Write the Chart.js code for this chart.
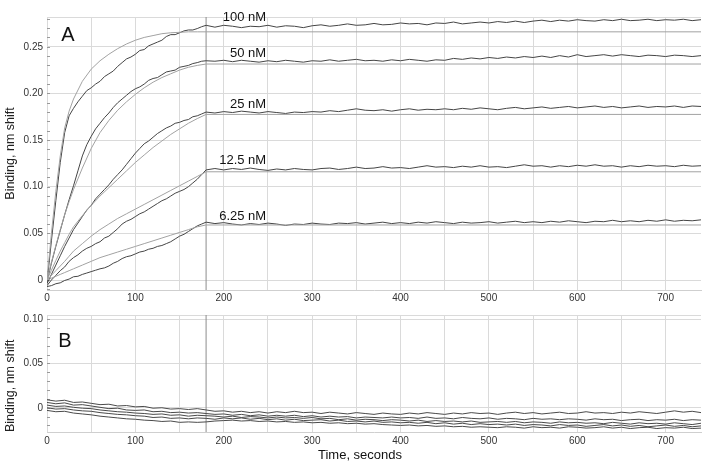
<!DOCTYPE html>
<html>
<head>
<meta charset="utf-8">
<script src="https://cdn.jsdelivr.net/npm/chart.js@4.4.1/dist/chart.umd.min.js"></script>
<style>
  body { margin: 0; background: #fff; }
  #wrap { position: relative; width: 706px; height: 475px; }
  canvas { position: absolute; left: 0; }
  #chartA { top: 0; }
  #chartB { top: 305px; }
</style>
</head>
<body>
<div id="wrap">
  <canvas id="chartA" width="706" height="305"></canvas>
  <canvas id="chartB" width="706" height="170"></canvas>
</div>
<script>
// sample times (s): 5 s steps during association, 10 s after
const times = [0,5,10,15,20,25,30,35,40,45,50,55,60,65,70,75,80,85,90,95,
  100,105,110,115,120,125,130,135,140,145,150,155,160,165,170,175,180,
  190,200,210,220,230,240,250,260,270,280,290,300,310,320,330,340,350,360,370,380,390,
  400,410,420,430,440,450,460,470,480,490,500,510,520,530,540,550,560,570,580,590,
  600,610,620,630,640,650,660,670,680,690,700,710,720,730,740];
const fitTimes = [0,5,10,15,20,25,30,40,50,60,70,80,90,100,110,120,130,140,150,160,170,180,740];
const timesB = [0,10,20,30,40,50,60,70,80,90,100,110,120,130,140,150,160,170,180,190,
  200,210,220,230,240,250,260,270,280,290,300,310,320,330,340,350,360,370,380,390,
  400,410,420,430,440,450,460,470,480,490,500,510,520,530,540,550,560,570,580,590,
  600,610,620,630,640,650,660,670,680,690,700,710,720,730,740];

const concentrations = ["100 nM", "50 nM", "25 nM", "12.5 nM", "6.25 nM"];
const labelTime = 248;
const labelValues = [0.2822, 0.2436, 0.1897, 0.1297, 0.0697];
const associationEnd = 180;

const xTicks = [0,50,100,150,200,250,300,350,400,450,500,550,600,650,700];
const yTicksA = [0, 0.05, 0.10, 0.15, 0.20, 0.25];
const yTicksB = [0, 0.05, 0.10];

// measured traces, panel A
const meas100 = [-0.003,0.042,0.085,0.126,0.158,0.176,0.184,0.191,0.197,0.203,0.206,0.21,0.213,0.218,0.221,0.224,0.229,0.233,0.237,0.239,
  0.242,0.246,0.247,0.251,0.253,0.255,0.257,0.261,0.263,0.263,0.265,0.267,0.268,0.268,0.2695,0.2715,0.273,
  0.271,0.273,0.272,0.2705,0.272,0.2715,0.273,0.271,0.2725,0.272,0.2705,
  0.2725,0.2735,0.272,0.273,0.2745,0.273,0.2735,0.275,0.2735,0.274,
  0.2755,0.2745,0.275,0.2735,0.2755,0.275,0.2765,0.2745,0.2755,0.2765,
  0.2755,0.277,0.276,0.2775,0.276,0.2775,0.2785,0.277,0.2785,0.2775,
  0.279,0.278,0.2775,0.279,0.278,0.2795,0.278,0.2785,0.2795,0.278,
  0.279,0.2785,0.2795,0.278,0.279];
const meas50 = [-0.002,0.018,0.036,0.053,0.07,0.086,0.101,0.117,0.133,0.145,0.154,0.162,0.168,0.174,0.179,0.185,0.19,0.194,0.198,0.202,
  0.205,0.207,0.21,0.214,0.216,0.217,0.22,0.223,0.224,0.225,0.228,0.229,0.23,0.232,0.233,0.2345,0.235,
  0.2345,0.2355,0.234,0.2355,0.2345,0.2335,0.235,0.234,0.2355,0.2345,0.2335,
  0.235,0.2345,0.236,0.2345,0.2355,0.2365,0.235,0.2355,0.2345,0.236,
  0.235,0.2365,0.2355,0.2345,0.236,0.2355,0.2375,0.2365,0.238,0.237,
  0.2385,0.2375,0.239,0.238,0.2395,0.2385,0.24,0.2385,0.2405,0.239,
  0.2415,0.2395,0.2405,0.2415,0.24,0.2415,0.2405,0.2395,0.241,0.2405,
  0.2395,0.241,0.2405,0.2395,0.2405];
const meas25 = [-0.004,0.006,0.016,0.026,0.036,0.045,0.054,0.061,0.068,0.075,0.08,0.087,0.092,0.097,0.102,0.108,0.113,0.118,0.124,0.13,
  0.136,0.141,0.146,0.149,0.153,0.157,0.16,0.163,0.165,0.168,0.169,0.171,0.172,0.175,0.176,0.178,0.18,
  0.179,0.1805,0.1795,0.181,0.18,0.179,0.1805,0.1795,0.1785,0.18,0.1795,
  0.1805,0.18,0.1815,0.1805,0.182,0.1835,0.182,0.1815,0.1825,0.181,
  0.1825,0.1835,0.182,0.183,0.1825,0.1835,0.1825,0.184,0.183,0.1845,
  0.1835,0.1825,0.184,0.185,0.1835,0.1845,0.1855,0.184,0.185,0.186,
  0.1845,0.1855,0.1865,0.185,0.186,0.1845,0.1855,0.1865,0.185,0.186,
  0.1855,0.1865,0.185,0.1865,0.186];
const meas12 = [-0.006,0.0,0.005,0.01,0.014,0.02,0.024,0.027,0.031,0.034,0.036,0.039,0.041,0.045,0.047,0.051,0.055,0.06,0.063,0.065,
  0.068,0.071,0.073,0.076,0.079,0.082,0.085,0.087,0.09,0.093,0.095,0.097,0.1,0.104,0.108,0.113,0.118,
  0.1195,0.118,0.1195,0.1185,0.12,0.1185,0.1175,0.119,0.118,0.1195,0.1185,
  0.118,0.1195,0.12,0.1185,0.1195,0.121,0.1195,0.12,0.1215,0.12,
  0.1205,0.1195,0.121,0.1225,0.121,0.1215,0.1205,0.122,0.121,0.1225,
  0.121,0.1215,0.1205,0.122,0.1235,0.122,0.1225,0.121,0.1225,0.1215,
  0.123,0.122,0.1235,0.122,0.1225,0.121,0.1225,0.1215,0.123,0.122,
  0.1225,0.1215,0.123,0.122,0.1225];
const meas6 = [-0.007,-0.006,-0.004,-0.003,-0.0005,0.001,0.0035,0.004,0.006,0.0075,0.009,0.0105,0.012,0.013,0.015,0.018,0.02,0.023,0.025,0.026,
  0.028,0.03,0.031,0.033,0.034,0.036,0.037,0.039,0.041,0.044,0.047,0.049,0.052,0.055,0.058,0.06,0.062,
  0.0605,0.0615,0.06,0.059,0.0605,0.0595,0.061,0.06,0.0585,0.06,0.0595,
  0.061,0.06,0.0595,0.061,0.0605,0.0615,0.06,0.061,0.062,0.0605,
  0.0615,0.0605,0.062,0.061,0.0625,0.0615,0.0605,0.062,0.061,0.0615,
  0.0625,0.061,0.062,0.063,0.0615,0.0625,0.0615,0.063,0.062,0.0635,
  0.0625,0.0615,0.063,0.0625,0.064,0.0625,0.0635,0.0625,0.064,0.063,
  0.0645,0.063,0.064,0.0635,0.0645];

// fitted curves, panel A
const fit100 = [0,0.05,0.095,0.133,0.163,0.181,0.194,0.213,0.226,0.235,0.242,0.248,0.253,0.257,0.26,0.262,0.264,0.265,0.2655,0.266,0.266,0.266,0.266];
const fit50 = [0,0.019,0.037,0.054,0.07,0.084,0.097,0.12,0.141,0.158,0.171,0.182,0.191,0.199,0.206,0.212,0.217,0.221,0.225,0.228,0.23,0.2315,0.2315];
const fit25 = [0,0.0105,0.021,0.031,0.04,0.049,0.057,0.069,0.08,0.09,0.099,0.108,0.117,0.126,0.134,0.142,0.149,0.156,0.162,0.168,0.173,0.1775,0.1775];
const fit12 = [0,0.005,0.01,0.015,0.02,0.0255,0.031,0.039,0.047,0.054,0.06,0.066,0.071,0.076,0.081,0.086,0.091,0.096,0.101,0.106,0.111,0.116,0.116];
const fit6 = [0,0.002,0.004,0.006,0.008,0.01,0.012,0.016,0.02,0.024,0.027,0.03,0.033,0.036,0.039,0.042,0.045,0.048,0.051,0.054,0.057,0.059,0.059];

// control traces, panel B
const ctrl1 = [0.009,0.0075,0.0085,0.006,0.0065,0.005,0.0035,0.004,0.002,0.0025,
  0.001,0.0015,-0.0005,0.0,-0.0015,-0.001,-0.002,-0.001,-0.0025,-0.004,
  -0.0035,-0.005,-0.004,-0.0055,-0.0045,-0.006,-0.0045,-0.0055,-0.004,-0.0055,
  -0.005,-0.0065,-0.005,-0.006,-0.007,-0.0055,-0.0065,-0.0075,-0.006,-0.007,
  -0.0075,-0.006,-0.007,-0.0055,-0.0065,-0.0075,-0.006,-0.007,-0.0055,-0.0065,
  -0.006,-0.0075,-0.006,-0.005,-0.0065,-0.0055,-0.007,-0.006,-0.005,-0.0065,
  -0.006,-0.0045,-0.006,-0.0055,-0.0065,-0.005,-0.006,-0.0045,-0.0055,-0.0065,
  -0.005,-0.0035,-0.005,-0.004,-0.0055];
const ctrl2 = [0.006,0.0045,0.0055,0.003,0.0035,0.002,0.0005,-0.001,-0.0005,-0.0025,
  -0.003,-0.0025,-0.0045,-0.004,-0.0055,-0.005,-0.006,-0.0055,-0.0065,-0.0075,
  -0.007,-0.0085,-0.0075,-0.009,-0.008,-0.0095,-0.0085,-0.0095,-0.0085,-0.01,
  -0.009,-0.0105,-0.0095,-0.0105,-0.01,-0.0115,-0.0105,-0.011,-0.0115,-0.0105,
  -0.0115,-0.011,-0.012,-0.0105,-0.012,-0.0115,-0.0125,-0.011,-0.012,-0.0125,
  -0.0115,-0.013,-0.012,-0.0125,-0.0135,-0.012,-0.013,-0.0125,-0.0135,-0.0125,
  -0.013,-0.014,-0.0125,-0.0135,-0.013,-0.0145,-0.0135,-0.013,-0.0145,-0.0135,
  -0.014,-0.013,-0.0145,-0.0135,-0.014];
const ctrl3 = [0.003,0.0015,0.002,0.0005,-0.0005,-0.001,-0.0025,-0.0035,-0.0045,-0.005,
  -0.006,-0.0065,-0.0075,-0.007,-0.0085,-0.008,-0.0095,-0.0085,-0.009,-0.0095,
  -0.0105,-0.0095,-0.011,-0.01,-0.0105,-0.0115,-0.0105,-0.0115,-0.011,-0.012,
  -0.011,-0.0125,-0.012,-0.0135,-0.0125,-0.014,-0.013,-0.0135,-0.0145,-0.0135,
  -0.014,-0.015,-0.014,-0.0155,-0.0145,-0.0155,-0.015,-0.016,-0.015,-0.0165,
  -0.016,-0.0155,-0.0165,-0.0155,-0.017,-0.016,-0.0165,-0.0175,-0.016,-0.017,
  -0.0165,-0.0175,-0.017,-0.018,-0.0165,-0.0175,-0.0185,-0.017,-0.018,-0.0175,
  -0.0185,-0.017,-0.018,-0.019,-0.0175];
const ctrl4 = [0.0,-0.0015,-0.001,-0.0025,-0.0035,-0.004,-0.0055,-0.0065,-0.0075,-0.008,
  -0.009,-0.0095,-0.011,-0.0105,-0.012,-0.0115,-0.0125,-0.0115,-0.012,-0.013,
  -0.0115,-0.0125,-0.0115,-0.013,-0.012,-0.0135,-0.0125,-0.014,-0.013,-0.0145,
  -0.014,-0.0135,-0.015,-0.014,-0.0155,-0.015,-0.016,-0.015,-0.0165,-0.016,
  -0.017,-0.0165,-0.0175,-0.0165,-0.018,-0.017,-0.0185,-0.0175,-0.019,-0.018,
  -0.019,-0.0185,-0.0195,-0.0185,-0.02,-0.019,-0.0195,-0.0205,-0.019,-0.02,
  -0.0195,-0.021,-0.02,-0.019,-0.0205,-0.0195,-0.021,-0.02,-0.0215,-0.0205,
  -0.0195,-0.021,-0.02,-0.0215,-0.0205];
const ctrl5 = [-0.003,-0.0045,-0.004,-0.006,-0.007,-0.008,-0.0095,-0.0105,-0.0115,-0.0125,
  -0.013,-0.014,-0.0145,-0.0155,-0.015,-0.0165,-0.016,-0.0165,-0.016,-0.015,
  -0.0145,-0.014,-0.015,-0.0145,-0.0155,-0.015,-0.016,-0.0155,-0.0165,-0.016,
  -0.017,-0.0165,-0.0175,-0.017,-0.018,-0.0175,-0.0185,-0.018,-0.019,-0.0195,
  -0.02,-0.0195,-0.0205,-0.02,-0.021,-0.0205,-0.0215,-0.021,-0.022,-0.0215,
  -0.022,-0.0225,-0.0215,-0.022,-0.023,-0.0215,-0.0225,-0.022,-0.023,-0.0215,
  -0.022,-0.023,-0.0225,-0.0215,-0.023,-0.022,-0.0235,-0.0225,-0.022,-0.0235,
  -0.0225,-0.023,-0.022,-0.0235,-0.023];

const rangeA = [-0.0107, 0.2819];
const rangeB = [-0.0274, 0.1048];
const xMax = 740;

Chart.defaults.font.family = '"Liberation Sans", Arial, sans-serif';
Chart.defaults.color = '#333';

const GRID = '#dadada';
const FONT = '"Liberation Sans", Arial, sans-serif';

function xy(ts, vs) {
  return ts.map((t, i) => ({ x: t, y: vs[i] }));
}

function line(label, data, color) {
  return { label, data, borderColor: color, borderWidth: 1, pointRadius: 0, tension: 0, fill: false };
}

// top border, little minor ticks on the y axis, panel letters and labels
function decor(opts) {
  return {
    id: 'decor',
    beforeDatasetsDraw(chart) {
      const { ctx, chartArea: a } = chart;
      const y = chart.scales.y;
      ctx.save();
      ctx.strokeStyle = GRID;
      ctx.lineWidth = 1;
      ctx.beginPath();
      ctx.moveTo(a.left, a.top + 0.5);
      ctx.lineTo(a.right, a.top + 0.5);
      ctx.stroke();
      ctx.strokeStyle = '#9a9a9a';
      for (let i = Math.ceil(y.min * 100); i <= Math.floor(y.max * 100); i++) {
        const py = Math.round(y.getPixelForValue(i / 100)) + 0.5;
        ctx.beginPath();
        ctx.moveTo(a.left, py);
        ctx.lineTo(a.left + 3, py);
        ctx.stroke();
      }
      ctx.restore();
    },
    afterDatasetsDraw(chart) {
      const { ctx } = chart;
      const x = chart.scales.x, y = chart.scales.y;
      ctx.save();
      ctx.fillStyle = '#111';
      ctx.textBaseline = 'alphabetic';
      ctx.font = '20px ' + FONT;
      ctx.textAlign = 'center';
      ctx.fillText(opts.letter, opts.letterX, opts.letterY);
      if (opts.labels) {
        ctx.font = '13px ' + FONT;
        ctx.textAlign = 'right';
        opts.labels.forEach((txt, i) => {
          ctx.fillText(txt, x.getPixelForValue(labelTime), y.getPixelForValue(labelValues[i]) + 4.6);
        });
      }
      if (opts.xTitle) {
        ctx.font = '13px ' + FONT;
        ctx.textAlign = 'center';
        ctx.fillText(opts.xTitle, 360, 154);
      }
      ctx.restore();
    }
  };
}

function scales(range, yTicks, xHeight, xPad, titleAlign) {
  return {
    x: {
      type: 'linear', min: 0, max: xMax,
      afterBuildTicks: s => { s.ticks = xTicks.map(v => ({ value: v })); },
      afterFit: s => { s.height = xHeight; },
      grid: { color: GRID, drawTicks: false },
      border: { display: true, color: '#cfcfcf' },
      ticks: { padding: xPad, maxRotation: 0, autoSkip: false, font: { size: 10 }, color: '#333',
        callback: v => (v % 100 === 0 ? String(v) : '') }
    },
    y: {
      type: 'linear', min: range[0], max: range[1],
      afterBuildTicks: s => { s.ticks = yTicks.map(v => ({ value: v })); },
      afterFit: s => { s.width = 47; },
      grid: { color: GRID, drawTicks: false },
      border: { display: false },
      ticks: { padding: 4, font: { size: 10 }, color: '#333',
        callback: v => (v === 0 ? '0' : v.toFixed(2)) },
      title: { display: true, text: 'Binding, nm shift', align: titleAlign, color: '#222',
        font: { size: 12.5 }, padding: { top: 3, bottom: 0 } }
    }
  };
}

const dsA = [];
[fit100, fit50, fit25, fit12, fit6].forEach((f, i) => dsA.push(line(concentrations[i] + ' fit', xy(fitTimes, f), '#a2a2a2')));
[meas100, meas50, meas25, meas12, meas6].forEach((m, i) => dsA.push(line(concentrations[i], xy(times, m), '#454545')));
dsA.push(line('end of association', [{ x: associationEnd, y: rangeA[0] }, { x: associationEnd, y: rangeA[1] }], '#8c8c8c'));

new Chart(document.getElementById('chartA'), {
  type: 'line',
  data: { datasets: dsA },
  options: {
    responsive: false, animation: false, devicePixelRatio: 1,
    layout: { padding: { left: 0, right: 5, top: 17, bottom: 0 } },
    plugins: { legend: { display: false }, tooltip: { enabled: false } },
    scales: scales(rangeA, yTicksA, 15, 2, 'center')
  },
  plugins: [decor({ letter: 'A', letterX: 68, letterY: 41, labels: concentrations })]
});

const dsB = [ctrl1, ctrl2, ctrl3, ctrl4, ctrl5].map((c, i) => line('control ' + (i + 1), xy(timesB, c), '#4a4a4a'));
dsB.push(line('end of association', [{ x: associationEnd, y: rangeB[0] }, { x: associationEnd, y: rangeB[1] }], '#8c8c8c'));

new Chart(document.getElementById('chartB'), {
  type: 'line',
  data: { datasets: dsB },
  options: {
    responsive: false, animation: false, devicePixelRatio: 1,
    layout: { padding: { left: 0, right: 5, top: 8, bottom: 0 } },
    plugins: { legend: { display: false }, tooltip: { enabled: false } },
    scales: scales(rangeB, yTicksB, 43, 3, 'start')
  },
  plugins: [decor({ letter: 'B', letterX: 65, letterY: 42, xTitle: 'Time, seconds' })]
});
</script>
</body>
</html>
